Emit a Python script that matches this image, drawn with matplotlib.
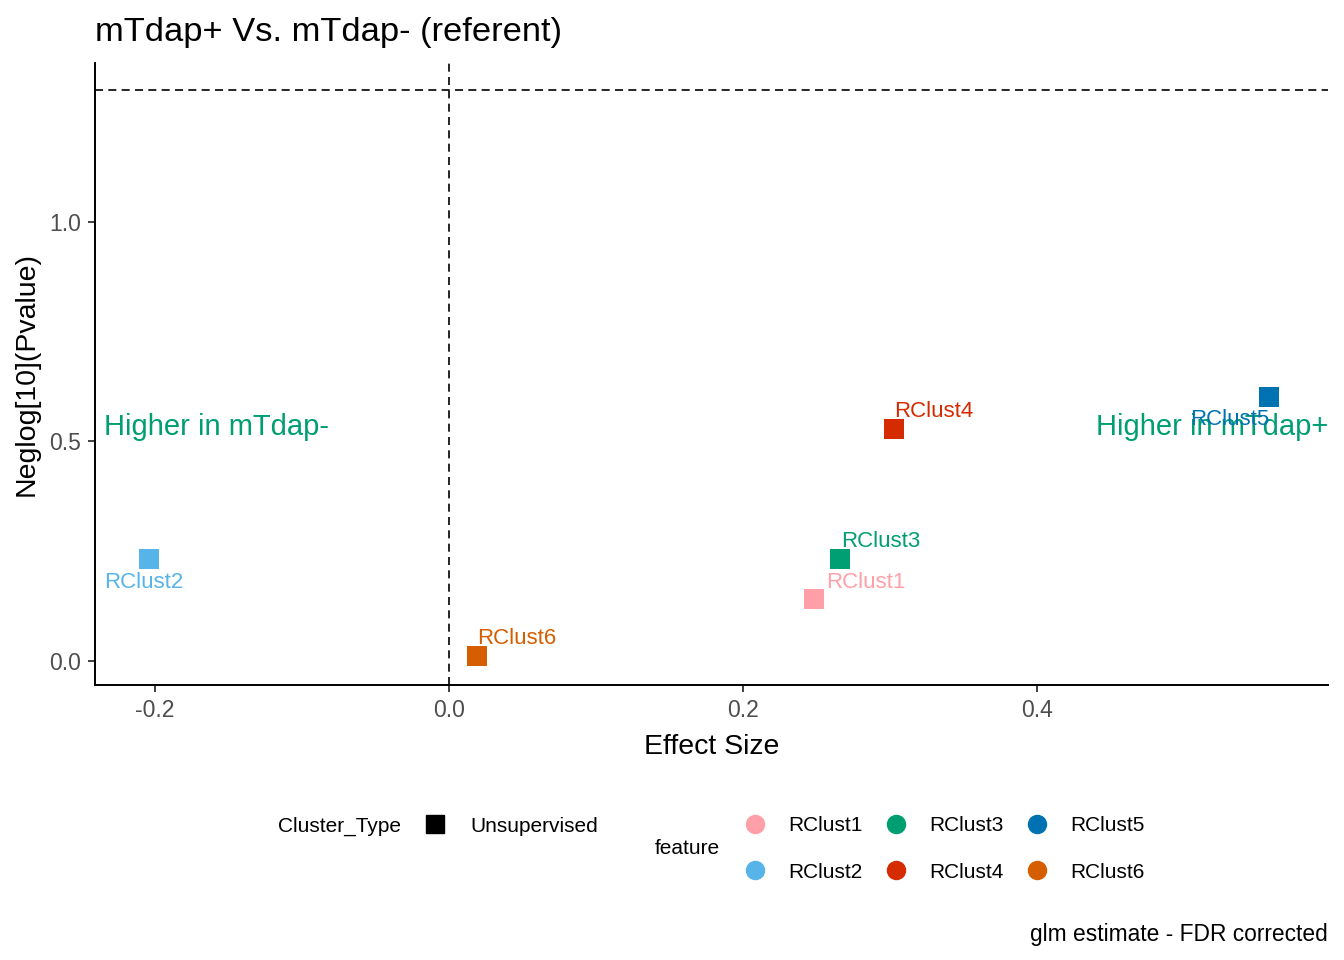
import numpy as np
import matplotlib.pyplot as plt
from matplotlib.lines import Line2D

plt.rcParams['font.family'] = ['Liberation Sans', 'DejaVu Sans']

# data
features = ['RClust1', 'RClust2', 'RClust3', 'RClust4', 'RClust5', 'RClust6']
effect = [0.248, -0.204, 0.266, 0.303, 0.558, 0.019]
neglogp = [0.141, 0.232, 0.232, 0.528, 0.601, 0.011]
colors = ['#FFA0A8', '#56B4E9', '#009E73', '#D52B00', '#0072B2', '#D55E00']
sig_line = -np.log10(0.05)

# label offsets in pixels and alignment
offsets = {'RClust1': (13, 17, 'left'), 'RClust2': (-5, -23, 'center'),
           'RClust3': (1, 18, 'left'), 'RClust4': (0, 18, 'left'),
           'RClust5': (0, -22, 'right'), 'RClust6': (0, 18, 'left')}

fig = plt.figure(figsize=(13.44, 9.6), dpi=100)
ax = fig.add_axes([95/1344, 1-685/960, (1328-95)/1344, (685-63)/960])

ax.axhline(sig_line, color='black', lw=1.2, ls=(0, (4.8, 3.2)))
ax.axvline(0, color='black', lw=1.2, ls=(0, (4.8, 3.2)))

for f, x, y, c in zip(features, effect, neglogp, colors):
    ax.scatter(x, y, marker='s', s=190, color=c, linewidths=0, zorder=3)
    dx, dy, ha = offsets[f]
    ax.annotate(f, (x, y), xytext=(dx, dy), textcoords='offset pixels',
                ha=ha, va='center', color=c, fontsize=16, zorder=4)

ax.text(0.007, 0.533, 'Higher in mTdap-', transform=ax.get_yaxis_transform(),
        color='#009E73', fontsize=21, ha='left', va='center')
ax.text(1.0, 0.533, 'Higher in mTdap+', transform=ax.get_yaxis_transform(),
        color='#009E73', fontsize=21, ha='right', va='center')

ax.set_xlim(-0.2408, 0.598)
ax.set_ylim(-0.0547, 1.362)
ax.set_xticks([-0.2, 0.0, 0.2, 0.4])
ax.set_yticks([0.0, 0.5, 1.0])
ax.set_xticklabels(['-0.2', '0.0', '0.2', '0.4'])
ax.set_yticklabels(['0.0', '0.5', '1.0'])
ax.tick_params(labelsize=16.5, labelcolor='#4D4D4D', color='#333333',
               length=5, width=1.3, pad=5)
for s in ['top', 'right']:
    ax.spines[s].set_visible(False)
for s in ['left', 'bottom']:
    ax.spines[s].set_linewidth(1.4)
ax.set_xlabel('Effect Size', fontsize=20.5, labelpad=9)
ax.set_ylabel('Neglog[10](Pvalue)', fontsize=20.5, labelpad=7)
ax.set_title('mTdap+ Vs. mTdap- (referent)', fontsize=24.8, loc='left', pad=16)

# legends
fs_leg = 15
fig.text(278/1344, 1-826/960, 'Cluster_Type', fontsize=fs_leg, va='center')
h1 = [Line2D([], [], marker='s', ls='', color='black', markersize=13)]
fig.legend(h1, ['Unsupervised'], loc='center left', frameon=False,
           bbox_to_anchor=(424.6/1344, 1-826/960), fontsize=fs_leg,
           handlelength=1.0, handletextpad=1.18, borderaxespad=0, borderpad=0)

fig.text(655/1344, 1-849/960, 'feature', fontsize=fs_leg, va='center')
col_x = [744.6, 885.6, 1026.6]
for k, x0 in enumerate(col_x):
    idx = [2*k, 2*k + 1]
    hs = [Line2D([], [], marker='o', ls='', color=colors[i], markersize=13) for i in idx]
    fig.legend(hs, [features[i] for i in idx], loc='center left', frameon=False,
               bbox_to_anchor=(x0/1344, 1-849/960), fontsize=fs_leg,
               handlelength=1.0, handletextpad=1.09, labelspacing=1.3,
               borderaxespad=0, borderpad=0)

fig.text(1328/1344, 1-934/960, 'glm estimate - FDR corrected', fontsize=16.4,
         ha='right', va='center')

fig.savefig('out.png', dpi=100)
